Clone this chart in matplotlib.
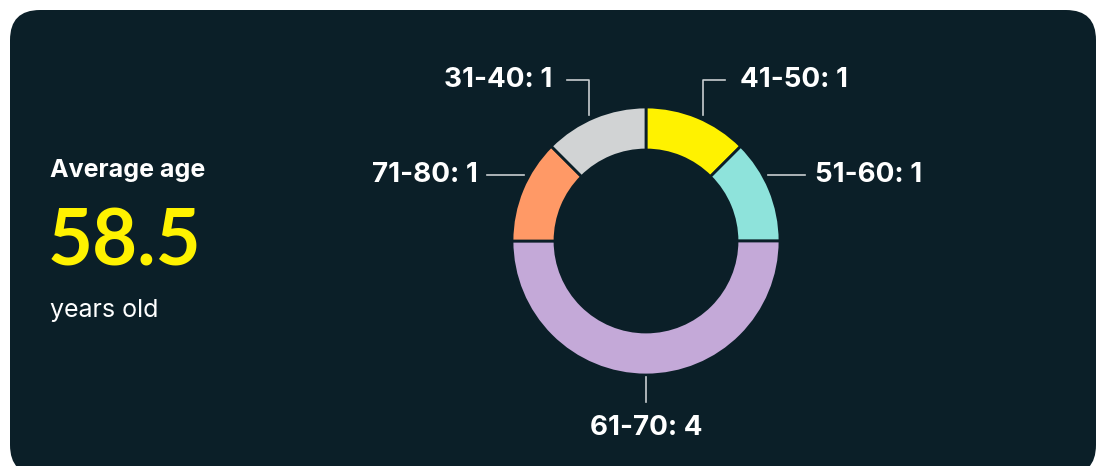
import numpy as np
import matplotlib.pyplot as plt
from matplotlib.patches import FancyBboxPatch

# data
groups = ['41-50', '51-60', '61-70', '71-80', '31-40']
counts = [1, 1, 4, 1, 1]
colors = ['#fff200', '#8ee3db', '#c4a9d8', '#ff9966', '#d1d3d4']
avg_age = 58.5

BG = '#0b1f28'
W, H = 1098, 466

plt.rcParams['font.family'] = ['Inter', 'DejaVu Sans']

fig = plt.figure(figsize=(W / 100, H / 100), dpi=100)
fig.patch.set_facecolor('white')
ax = fig.add_axes([0, 0, 1, 1])
ax.set_xlim(0, W)
ax.set_ylim(0, H)
ax.axis('off')

# rounded card
card = FancyBboxPatch((10, -9), 1086, H - 10 + 9,
                      boxstyle='round,pad=0,rounding_size=30',
                      fc=BG, ec='none')
ax.add_patch(card)

# left text block
ax.text(50, H - 171, 'Average age', color='white', fontsize=18,
        fontweight='bold', va='center', ha='left')
ax.text(48, H - 243, f'{avg_age}', color='#fff200', fontsize=56,
        fontweight='bold', va='center', ha='left', family=['Lato', 'DejaVu Sans'])
ax.text(50, H - 311, 'years old', color='white', fontsize=18,
        va='center', ha='left')

# donut
cx, cy, R = 646, H - 241, 134
ring = 43
wedges, _ = ax.pie(counts, colors=colors, startangle=90, counterclock=False,
                   center=(cx, cy), radius=R, frame=True,
                   wedgeprops=dict(width=ring, edgecolor=BG, linewidth=2))
ax.set_xlim(0, W)
ax.set_ylim(0, H)
ax.axis('off')
ax.set_aspect('equal')

lc = '#c8cdd0'
lab_kw = dict(color='white', fontsize=20, fontweight='bold', va='center')

# leader lines and labels
for w, g, n in zip(wedges, groups, counts):
    mid = np.deg2rad((w.theta1 + w.theta2) / 2)
    dx, dy = np.cos(mid), np.sin(mid)
    txt = f'{g}: {n}'
    if dy > 0.5:
        # top: vertical up then horizontal
        x0 = cx + (R + 15) * dx
        y0 = cy + np.sqrt(R ** 2 - (x0 - cx) ** 2) + 5
        ytop = H - 80
        s = np.sign(dx)
        ax.plot([x0, x0, x0 + s * 22], [y0, ytop, ytop], color=lc, lw=1.2)
        ax.text(x0 + s * 37, ytop, txt, ha='left' if s > 0 else 'right', **lab_kw)
    elif dy < -0.5:
        # bottom: vertical down
        y0 = cy - R - 2
        ax.plot([cx, cx], [y0, y0 - 25], color=lc, lw=1.2)
        ax.text(cx, y0 - 51, txt, ha='center', **lab_kw)
    else:
        s = np.sign(dx)
        y0 = cy + 66
        x0 = cx + s * (np.sqrt(R ** 2 - 66 ** 2) + 5)
        ax.plot([x0, x0 + s * 37], [y0, y0], color=lc, lw=1.2)
        ax.text(x0 + s * 47, y0, txt, ha='left' if s > 0 else 'right', **lab_kw)

fig.savefig('out.png', dpi=100, facecolor='white')
